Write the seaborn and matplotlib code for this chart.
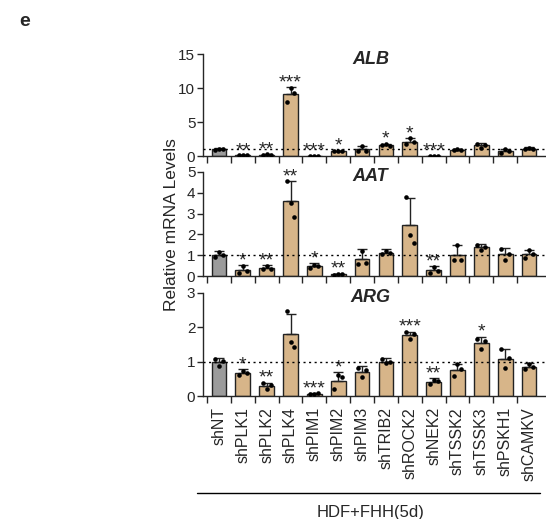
import numpy as np
import pandas as pd
import matplotlib
matplotlib.use("Agg")
import matplotlib.pyplot as plt
from matplotlib.lines import Line2D
import seaborn as sns

sns.set_style("ticks")
plt.rcParams['font.family'] = ['Liberation Sans', 'DejaVu Sans']

conditions = ["shNT", "shPLK1", "shPLK2", "shPLK4", "shPIM1", "shPIM2", "shPIM3",
              "shTRIB2", "shROCK2", "shNEK2", "shTSSK2", "shTSSK3", "shPSKH1", "shCAMKV"]
genes = ["ALB", "AAT", "ARG"]

alb_mean = [1.0, 0.1, 0.2, 9.1, 0.05, 0.73, 0.97, 1.55, 2.13, 0.05, 0.95, 1.55, 0.73, 1.1]
alb_err = [0.15, 0.03, 0.05, 1.0, 0.02, 0.05, 0.55, 0.28, 0.5, 0.02, 0.07, 0.33, 0.35, 0.22]
alb_dots = [[0.95, 1.1, 1.05], [0.1, 0.1, 0.1], [0.17, 0.23, 0.2], [8.0, 10.0, 9.3],
            [0.05, 0.05, 0.05], [0.7, 0.75, 0.75], [0.7, 1.5, 0.7], [1.6, 1.7, 1.4],
            [1.8, 2.6, 2.0], [0.05, 0.05, 0.05], [0.9, 1.0, 0.95], [1.8, 1.2, 1.6],
            [0.5, 1.0, 0.7], [1.0, 1.25, 1.05]]
alb_stars = ["", "**", "**", "***", "***", "*", "", "*", "*", "***", "", "", "", ""]

aat_mean = [1.0, 0.29, 0.39, 3.62, 0.47, 0.08, 0.81, 1.12, 2.45, 0.28, 1.0, 1.38, 1.07, 1.05]
aat_err = [0.2, 0.24, 0.14, 0.95, 0.14, 0.03, 0.47, 0.17, 1.32, 0.2, 0.48, 0.16, 0.26, 0.22]
aat_dots = [[0.9, 1.15, 1.0], [0.15, 0.5, 0.25], [0.32, 0.5, 0.35], [4.55, 3.5, 2.84],
            [0.4, 0.52, 0.5], [0.05, 0.1, 0.08], [0.6, 1.2, 0.62], [1.05, 1.22, 1.1],
            [3.78, 1.98, 1.6], [0.15, 0.45, 0.25], [0.75, 1.47, 0.78], [1.5, 1.25, 1.4],
            [1.3, 0.75, 1.05], [0.85, 1.25, 1.05]]
aat_stars = ["", "*", "**", "**", "*", "**", "", "", "", "**", "", "", "", ""]

arg_mean = [0.99, 0.67, 0.3, 1.81, 0.07, 0.44, 0.7, 1.0, 1.77, 0.42, 0.76, 1.54, 1.09, 0.85]
arg_err = [0.12, 0.12, 0.09, 0.57, 0.02, 0.26, 0.17, 0.11, 0.1, 0.09, 0.18, 0.19, 0.29, 0.11]
arg_dots = [[1.08, 0.88, 1.02], [0.6, 0.72, 0.68], [0.37, 0.2, 0.33], [2.47, 1.57, 1.43],
            [0.06, 0.07, 0.08], [0.2, 0.6, 0.55], [0.82, 0.55, 0.75], [1.07, 0.95, 1.0],
            [1.85, 1.67, 1.8], [0.35, 0.48, 0.45], [0.57, 0.92, 0.8], [1.66, 1.38, 1.6],
            [1.37, 0.82, 1.1], [0.8, 0.92, 0.85]]
arg_stars = ["", "*", "**", "", "***", "*", "", "", "***", "**", "", "*", "", ""]

replicates = ["r1", "r2", "r3"]
y_max = [15, 5, 3]
y_ticks = [[0, 5, 10, 15], [0, 1, 2, 3, 4, 5], [0, 1, 2, 3]]
x_title = "HDF+FHH(5d)"
y_title = "Relative mRNA Levels"

means = [alb_mean, aat_mean, arg_mean]
errs = [alb_err, aat_err, arg_err]
dots = [alb_dots, aat_dots, arg_dots]
stars = [alb_stars, aat_stars, arg_stars]

grey = "#9B9B9B"
tan = "#E4B67C"
palette = {c: (grey if i == 0 else tan) for i, c in enumerate(conditions)}

W, H = 546, 519
fig = plt.figure(figsize=(W / 100, H / 100), dpi=100)
panel_px = [(54, 156), (172, 276), (293, 396)]
left_px, right_px = 203, 545

for gi, gene in enumerate(genes):
    top, bot = panel_px[gi]
    ax = fig.add_axes([left_px / W, 1 - bot / H, (right_px - left_px) / W, (bot - top) / H])
    df = pd.DataFrame({"cond": conditions, "mean": means[gi]})
    sns.barplot(data=df, x="cond", y="mean", hue="cond", palette=palette, legend=False,
                order=conditions, width=0.62, edgecolor="#222222", linewidth=1.0, ax=ax,
                zorder=2)
    pos = np.arange(len(conditions))
    ax.errorbar(pos, means[gi], yerr=[np.zeros(len(conditions)), errs[gi]], fmt="none",
                ecolor="#222222", elinewidth=1.0, capsize=3.5, capthick=1.0, zorder=3)
    long = pd.DataFrame([(c, r, v) for c, vals in zip(conditions, dots[gi])
                         for r, v in zip(replicates, vals)],
                        columns=["cond", "rep", "val"])
    n_before = len(ax.collections)
    sns.stripplot(data=long, x="cond", y="val", order=conditions, hue="rep",
                  hue_order=replicates, palette=["black"] * 3, dodge=True, jitter=0,
                  size=3.3, legend=False, ax=ax, zorder=4)
    # pull the dodged replicate dots closer to the bar centre
    for coll in ax.collections[n_before:]:
        off = coll.get_offsets()
        if len(off):
            off = np.asarray(off, dtype=float)
            centre = np.round(off[:, 0])
            off[:, 0] = centre + (off[:, 0] - centre) * 0.62
            coll.set_offsets(off)
    ax.axhline(1, color="black", lw=1.0, ls=(0, (1.5, 2.5)), zorder=5)
    for i, s in enumerate(stars[gi]):
        if s:
            ax.annotate(s, (i, means[gi][i] + errs[gi][i]), xytext=(0, -3),
                        textcoords="offset points", ha="center", va="bottom", fontsize=14)
    ax.set_xlim(-0.67, 13.67)
    ax.set_ylim(0, y_max[gi])
    ax.set_yticks(y_ticks[gi])
    ax.set_xticks(np.arange(-0.5, 13, 1.0))
    ax.set_xlabel("")
    ax.set_ylabel("")
    ax.tick_params(axis="y", labelsize=11, length=4, width=1, pad=1.5)
    ax.tick_params(axis="x", length=5, width=1, labelbottom=False)
    if gi == 2:
        ax.set_xticks(np.arange(len(conditions)), minor=True)
        ax.set_xticklabels([], minor=False)
        ax.set_xticklabels(conditions, minor=True, rotation=90, fontsize=11.5)
        ax.tick_params(axis="x", which="minor", length=0, pad=8, labelbottom=True)
    for sp in ["top", "right"]:
        ax.spines[sp].set_visible(False)
    for sp in ["left", "bottom"]:
        ax.spines[sp].set_linewidth(1.0)
    ax.text(0.49, 1 - 5 / (bot - top), gene, transform=ax.transAxes, ha="center",
            va="center", fontsize=13, fontweight="bold", fontstyle="italic")

fig.text(172 / W, 1 - 225 / H, y_title, rotation=90, ha="center", va="center", fontsize=12.5)
fig.add_artist(Line2D([197 / W, 540 / W], [1 - 493 / H, 1 - 493 / H], color="black",
                      lw=1.0, transform=fig.transFigure))
fig.text(371 / W, 1 - 512 / H, x_title, ha="center", va="center", fontsize=12)
fig.text(25 / W, 1 - 22 / H, "e", ha="center", va="center", fontsize=14, fontweight="bold")

fig.savefig("out.png", dpi=100)
